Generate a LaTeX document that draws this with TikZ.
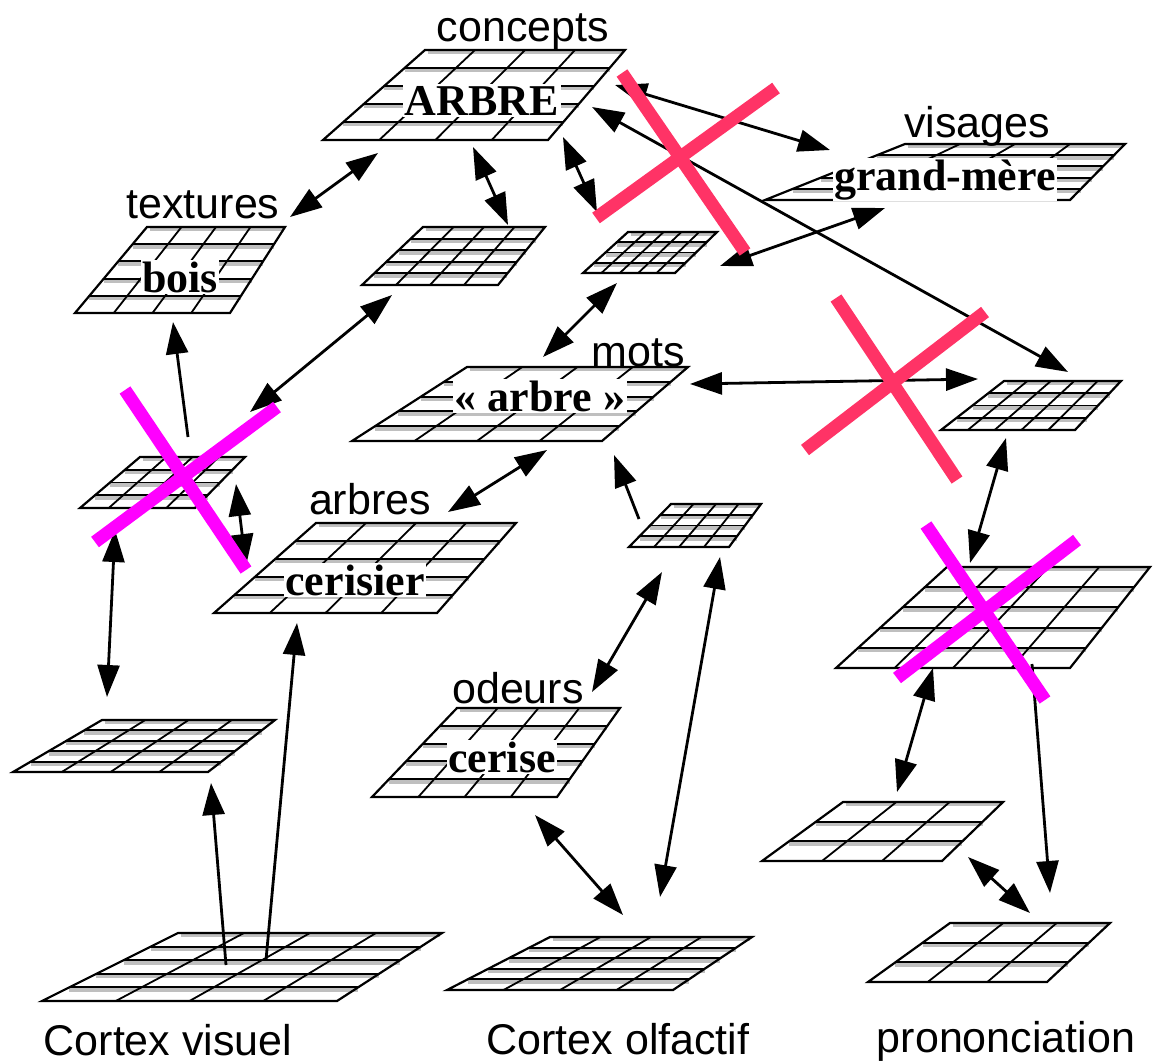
\documentclass[tikz,border=0pt]{standalone}
\usepackage{fontspec}
\setmainfont{Liberation Serif}
\setsansfont{Liberation Sans}
\usetikzlibrary{arrows.meta,calc}
\definecolor{xpink}{RGB}{255,51,102}
\definecolor{xmag}{RGB}{255,0,255}
\tikzset{
  outline/.style={black, line width=2.2pt, line join=miter},
  hline/.style={black, line width=1.9pt},
  hshade/.style={gray!50, line width=3.6pt},
  vline/.style={black, line width=1.8pt},
  conn/.style={line width=2.8pt, black},
  both/.style={conn, {Triangle[length=32pt,width=22pt]}-{Triangle[length=32pt,width=22pt]}},
  one/.style={conn, -{Triangle[length=32pt,width=22pt]}},
  sanslab/.style={font=\sffamily\fontsize{43}{45}\selectfont, inner sep=0pt, anchor=base},
  serlab/.style={font=\bfseries\fontsize{44}{46}\selectfont, fill=white, inner sep=1.5pt, anchor=base},
  pinkx/.style={draw=xpink, line width=13pt},
  magx/.style={draw=xmag, line width=13pt},
}
% #1 BL, #2 BR, #3 TR, #4 TL, #5 columns, #6 rows
\newcommand{\pgrid}[6]{%
  \coordinate (BL) at #1; \coordinate (BR) at #2;
  \coordinate (TR) at #3; \coordinate (TL) at #4;
  \pgfmathtruncatemacro{\grdr}{#6-1}%
  \pgfmathtruncatemacro{\grdc}{#5-1}%
  \draw[hshade] ($(TL)+(3,2.5)$) -- ($(TR)+(-2,2.5)$);
  \foreach \k in {1,...,\grdr}{%
    \pgfmathsetmacro{\grdt}{\k/#6}%
    \draw[hshade] ($(BL)!\grdt!(TL)+(0,2.5)$) -- ($(BR)!\grdt!(TR)+(0,2.5)$);
    \draw[hline] ($(BL)!\grdt!(TL)$) -- ($(BR)!\grdt!(TR)$);
  }%
  \foreach \k in {1,...,\grdc}{%
    \pgfmathsetmacro{\grdt}{\k/#5}%
    \draw[vline] ($(BL)!\grdt!(BR)$) -- ($(TL)!\grdt!(TR)$);
  }%
  \draw[outline] (BL) -- (BR) -- (TR) -- (TL) -- cycle;
}
\begin{document}
\begin{tikzpicture}[x=1pt,y=-1pt]
\useasboundingbox (0,0) rectangle (1161,1063);
% grids
\pgrid{(323,140)}{(548,140)}{(625,50)}{(425,50)}{4}{5}     % concepts
\pgrid{(75,313)}{(230,313)}{(285,227)}{(147,227)}{4}{5}    % textures
\pgrid{(362,285)}{(498,285)}{(545,227)}{(423,227)}{4}{5}   % centre top
\pgrid{(583,273)}{(675,273)}{(717,232)}{(628,232)}{5}{4}   % small right of concepts
\pgrid{(765,200)}{(1070,200)}{(1125,144)}{(905,144)}{4}{5} % visages
\pgrid{(352,441)}{(602,441)}{(688,367)}{(467,367)}{4}{5}   % mots
\pgrid{(80,508)}{(195,508)}{(245,457)}{(140,457)}{4}{4}    % left small
\pgrid{(214,613)}{(437,613)}{(516,523)}{(316,523)}{4}{5}   % arbres
\pgrid{(629,547)}{(729,547)}{(761,504)}{(671,504)}{4}{4}   % small below mots
\pgrid{(941,430)}{(1075,430)}{(1121,381)}{(1004,381)}{5}{4}% right
\pgrid{(13,772)}{(208,772)}{(275,720)}{(102,720)}{4}{5}    % left lower
\pgrid{(372,797)}{(557,797)}{(620,708)}{(457,708)}{4}{5}   % odeurs
\pgrid{(836,668)}{(1070,668)}{(1150,567)}{(947,567)}{4}{5} % pron big
\pgrid{(762,861)}{(942,861)}{(1003,802)}{(843,802)}{3}{3}  % pron left
\pgrid{(868,982)}{(1047,982)}{(1110,923)}{(950,923)}{3}{3} % pron bottom
\pgrid{(42,1001)}{(337,1001)}{(442,933)}{(178,933)}{4}{5}  % cortex visuel
\pgrid{(447,990)}{(673,990)}{(752,937)}{(550,937)}{4}{5}  % cortex olfactif
% labels
\node[sanslab] (lconcepts) at (523,41) {concepts};
\node[sanslab] (ltextures) at (203,218) {textures};
\node[sanslab] (lvisages) at (977,137) {visages};
\node[sanslab] (lmots) at (638,366) {mots};
\node[sanslab] (larbres) at (370,514) {arbres};
\node[sanslab] (lodeurs) at (518,703) {odeurs};
\node[sanslab] (lcvis) at (168,1055) {Cortex visuel};
\node[sanslab] (lcolf) at (618,1054) {Cortex olfactif};
\node[sanslab] (lpron) at (1006,1052) {prononciation};
\node[serlab] (tarbre) at (482,115) {ARBRE};
\node[serlab] (tbois) at (180,292) {bois};
\node[serlab] (tgm) at (945,190) {grand-mère};
\node[serlab] (tmot) at (540,411) {«~arbre~»};
\node[serlab] (tcerisier) at (355,595) {cerisier};
\node[serlab] (tcerise) at (502,772) {cerise};
% connector end points
\coordinate (a1a) at (290,217);  \coordinate (a1b) at (378,153);
\coordinate (a2a) at (473,147);  \coordinate (a2b) at (508,225);
\coordinate (a3a) at (563,137);  \coordinate (a3b) at (597,212);
\coordinate (a4a) at (615,85);   \coordinate (a4b) at (830,150);
\coordinate (a5a) at (592,107);  \coordinate (a5b) at (1068,372);
\coordinate (a6a) at (720,266);  \coordinate (a6b) at (885,208);
\coordinate (a7a) at (617,283);  \coordinate (a7b) at (543,357);
\coordinate (a8a) at (690,384);  \coordinate (a8b) at (978,379);
\coordinate (a9a) at (392,295);  \coordinate (a9b) at (250,412);
\coordinate (a10a) at (188,437); \coordinate (a10b) at (173,322);
\coordinate (a11a) at (236,484); \coordinate (a11b) at (246,566);
\coordinate (a12a) at (547,450); \coordinate (a12b) at (448,512);
\coordinate (a13a) at (639,519); \coordinate (a13b) at (614,455);
\coordinate (a14a) at (115,530); \coordinate (a14b) at (107,697);
\coordinate (a15a) at (226,965); \coordinate (a15b) at (211,783);
\coordinate (a16a) at (266,960); \coordinate (a16b) at (297,623);
\coordinate (a17a) at (662,572); \coordinate (a17b) at (592,692);
\coordinate (a18a) at (720,557); \coordinate (a18b) at (660,897);
\coordinate (a19a) at (535,815); \coordinate (a19b) at (623,915);
\coordinate (a20a) at (1006,438);\coordinate (a20b) at (970,563);
\coordinate (a21a) at (933,668); \coordinate (a21b) at (897,792);
\coordinate (a22a) at (1032,664);\coordinate (a22b) at (1050,893);
\coordinate (a23a) at (968,857); \coordinate (a23b) at (1030,913);
% connectors
\draw[both] (a1a) -- (a1b);
\draw[both] (a2a) -- (a2b);
\draw[both] (a3a) -- (a3b);
\draw[both] (a4a) -- (a4b);
\draw[both] (a5a) -- (a5b);
\draw[both] (a6a) -- (a6b);
\draw[both] (a7a) -- (a7b);
\draw[both] (a8a) -- (a8b);
\draw[both] (a9a) -- (a9b);
\draw[one]  (a10a) -- (a10b);
\draw[both] (a11a) -- (a11b);
\draw[both] (a12a) -- (a12b);
\draw[one]  (a13a) -- (a13b);
\draw[both] (a14a) -- (a14b);
\draw[one]  (a15a) -- (a15b);
\draw[one]  (a16a) -- (a16b);
\draw[both] (a17a) -- (a17b);
\draw[both] (a18a) -- (a18b);
\draw[both] (a19a) -- (a19b);
\draw[both] (a20a) -- (a20b);
\draw[both] (a21a) -- (a21b);
\draw[one]  (a22a) -- (a22b);
\draw[both] (a23a) -- (a23b);
% crosses
\draw[pinkx] (622,73) -- (745,252);
\draw[pinkx] (596,218) -- (776,88);
\draw[pinkx] (836,298) -- (957,480);
\draw[pinkx] (805,450) -- (985,312);
\draw[magx] (125,390) -- (246,570);
\draw[magx] (95,542) -- (277,407);
\draw[magx] (926,525) -- (1045,700);
\draw[magx] (897,678) -- (1077,540);
\end{tikzpicture}
\end{document}
